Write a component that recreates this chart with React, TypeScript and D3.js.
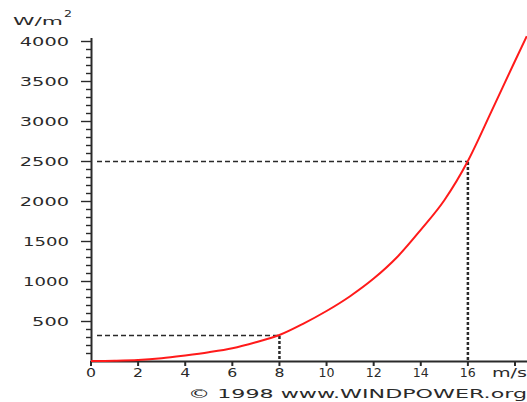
import React from "react";
import * as d3 from "d3";

// wind speed (m/s) and power density (W/m2)
const speeds = [0, 1, 2, 3, 4, 5, 6, 7, 8, 9, 10, 11, 12, 13, 14, 15, 16, 17, 18, 18.5];
const power = [0, 3, 12, 35, 70, 110, 160, 235, 325, 465, 625, 810, 1030, 1300, 1640, 2010, 2500, 3120, 3750, 4060];

const xTicks = [0, 2, 4, 6, 8, 10, 12, 14, 16, 18];
const xTickLabels = ["0", "2", "4", "6", "8", "10", "12", "14", "16", "m/s"];
const yTicks = [500, 1000, 1500, 2000, 2500, 3000, 3500, 4000];
const yTickLabels = ["500", "1000", "1500", "2000", "2500", "3000", "3500", "4000"];

// reference guides
const guideSpeeds = [8, 16];
const guidePower = [325, 2500];

const W = 527;
const H = 402;
const FONT = "'DejaVu Sans', Verdana, sans-serif";
const INK = "#2a2a2a";

// width of a stretched label (the "1" is narrow)
const labelWidth = (s: string, wide: number, narrow: number) =>
    s.split("").reduce((a, c) => a + (c === "1" ? narrow : wide), 0);

const App = () => {
    const svgRef = React.useRef<SVGSVGElement>(null);

    React.useEffect(() => {
        const x = d3.scaleLinear().domain([0, 18]).range([91, 515]);
        const y = d3.scaleLinear().domain([0, 4000]).range([361, 41]);

        const svg = d3.select(svgRef.current);
        svg.selectAll("*").remove();

        // y axis title
        svg.append("text")
            .attr("x", 13).attr("y", 25)
            .attr("textLength", 50).attr("lengthAdjust", "spacingAndGlyphs")
            .attr("font-family", FONT).attr("font-size", 11).attr("fill", INK)
            .text("W/m");
        svg.append("text")
            .attr("x", 64).attr("y", 17)
            .attr("textLength", 8).attr("lengthAdjust", "spacingAndGlyphs")
            .attr("font-family", FONT).attr("font-size", 9).attr("fill", INK)
            .text("2");

        // guide lines
        guideSpeeds.forEach((s, i) => {
            svg.append("line")
                .attr("x1", 97).attr("x2", x(s))
                .attr("y1", y(guidePower[i]) + 0.5).attr("y2", y(guidePower[i]) + 0.5)
                .attr("stroke", INK).attr("stroke-width", 1.3)
                .attr("stroke-dasharray", "5,3");
            svg.append("line")
                .attr("x1", x(s)).attr("x2", x(s))
                .attr("y1", y(guidePower[i]) + 1).attr("y2", y(0))
                .attr("stroke", INK).attr("stroke-width", 2.5)
                .attr("stroke-dasharray", "3,2");
        });

        // minor / major y ticks
        const minor = d3.range(100, 4001, 100);
        svg.append("g").selectAll("line").data(minor).enter().append("line")
            .attr("x1", (d) => (d % 500 === 0 ? 81 : 86)).attr("x2", 92)
            .attr("y1", (d) => y(d) + 0.5).attr("y2", (d) => y(d) + 0.5)
            .attr("stroke", INK).attr("stroke-width", 1.4);

        svg.append("g").selectAll("text").data(yTicks).enter().append("text")
            .attr("x", (d, i) => 69 - labelWidth(yTickLabels[i], 12.3, 9))
            .attr("y", (d) => y(d) + 5)
            .attr("textLength", (d, i) => labelWidth(yTickLabels[i], 12.3, 9))
            .attr("lengthAdjust", "spacingAndGlyphs")
            .attr("font-family", FONT).attr("font-size", 12).attr("fill", INK)
            .text((d, i) => yTickLabels[i]);

        // x ticks
        svg.append("g").selectAll("line").data(xTicks).enter().append("line")
            .attr("x1", (d) => x(d)).attr("x2", (d) => x(d))
            .attr("y1", 361).attr("y2", 366)
            .attr("stroke", INK).attr("stroke-width", 2);

        svg.append("g").selectAll("text").data(xTicks).enter().append("text")
            .attr("x", (d, i) => {
                const lab = xTickLabels[i];
                const w = lab === "m/s" ? 35 : labelWidth(lab, 10, 6);
                return lab === "m/s" ? 492 : x(d) - w / 2;
            })
            .attr("y", 377)
            .attr("textLength", (d, i) => (xTickLabels[i] === "m/s" ? 35 : labelWidth(xTickLabels[i], 10, 6)))
            .attr("lengthAdjust", "spacingAndGlyphs")
            .attr("font-family", FONT).attr("font-size", 12).attr("fill", INK)
            .text((d, i) => xTickLabels[i]);

        // axes
        svg.append("line")
            .attr("x1", 91.5).attr("x2", 91.5).attr("y1", 38).attr("y2", 362)
            .attr("stroke", INK).attr("stroke-width", 2);
        svg.append("line")
            .attr("x1", 91).attr("x2", W).attr("y1", 361.5).attr("y2", 361.5)
            .attr("stroke", INK).attr("stroke-width", 2);

        // power curve
        const line = d3.line<number>()
            .x((d, i) => x(speeds[i]))
            .y((d) => y(d))
            .curve(d3.curveMonotoneX);
        svg.append("path")
            .attr("d", line(power))
            .attr("fill", "none")
            .attr("stroke", "#ff1a1a")
            .attr("stroke-width", 2);

        // copyright
        svg.append("text")
            .attr("x", 188).attr("y", 398)
            .attr("textLength", 339).attr("lengthAdjust", "spacingAndGlyphs")
            .attr("font-family", FONT).attr("font-size", 12).attr("fill", INK)
            .text("\u00a9 1998 www.WINDPOWER.org");
    }, []);

    return (
        <div style={{ position: "absolute", left: 0, top: 0, background: "#fff" }}>
            <svg ref={svgRef} width={W} height={H} style={{ display: "block" }} />
        </div>
    );
};

export default App;
